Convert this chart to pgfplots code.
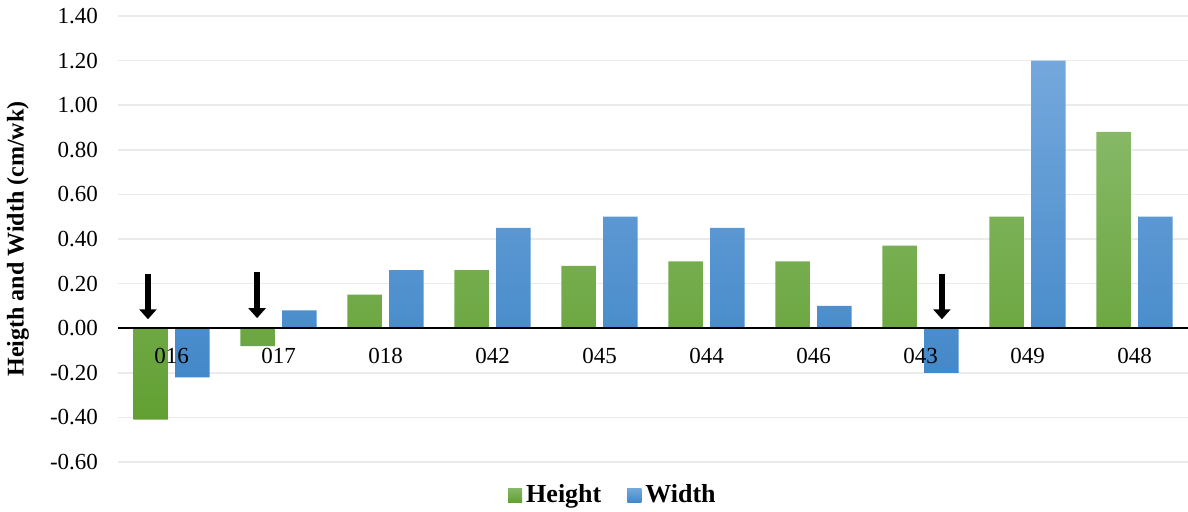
\documentclass[border=0pt]{standalone}
\usepackage{fontspec}
\setmainfont{Liberation Serif}
\usepackage{pgfplots}
\pgfplotsset{compat=1.18}
\usetikzlibrary{arrows.meta}

% bar gradients (light at the top, darker at the base)
\definecolor{gTop}{HTML}{86B866}
\definecolor{gMid}{HTML}{70AD47}
\definecolor{gBot}{HTML}{62A032}
\definecolor{bTop}{HTML}{74A8DC}
\definecolor{bMid}{HTML}{5B9BD5}
\definecolor{bBot}{HTML}{4388C9}
\definecolor{gridgray}{HTML}{EBEBEB}

\newcommand{\chartfont}{\fontsize{11.5}{13.8}\selectfont}
\newcommand{\legendfont}{\fontsize{13}{15.6}\selectfont}

\begin{document}
\chartfont
\begin{tikzpicture}
\begin{axis}[
  set layers=standard,
  scale only axis,
  width=535pt, height=223pt,
  xmin=-0.5, xmax=9.5,
  ymin=-0.6, ymax=1.4,
  axis x line=middle, axis y line=left,
  axis line style={draw=none},
  hide obscured x ticks=false, hide obscured y ticks=false,
  major tick length=0pt,
  xtick={0,1,2,3,4,5,6,7,8,9},
  xticklabels={016,017,018,042,045,044,046,043,049,048},
  ytick={-0.6,-0.4,-0.2,0,0.2,0.4,0.6,0.8,1.0,1.2,1.4},
  ymajorgrids,
  grid style={line width=0.8pt, color=gridgray},
  tick label style={font=\chartfont},
  yticklabel style={xshift=-6pt,
    /pgf/number format/fixed, /pgf/number format/fixed zerofill,
    /pgf/number format/precision=2, /pgf/number format/assume math mode=true},
  % category names sit in front of the bars
  xticklabel style={yshift=-6pt, /pgfplots/on layer=axis foreground},
  ylabel={\bfseries Heigth and Width (cm/wk)},
  ylabel style={font=\fontsize{12}{14}\selectfont, at={(axis description cs:-0.0935,0.5)}, anchor=center},
  ybar, bar width=17.25pt,
  legend columns=2,
  legend style={at={(axis description cs:0.4635,0)}, anchor=north, yshift=-7pt,
    draw=none, font=\legendfont\bfseries,
    /tikz/every even column/.append style={column sep=11pt}},
]
\addplot[draw=none, top color=gTop, middle color=gMid, bottom color=gBot, bar shift=-10.4pt,
  legend image code/.code={\fill[gMid] (0pt,-3.5pt) rectangle (7pt,3.5pt);}]
  coordinates {(0,-0.41) (1,-0.08) (2,0.15) (3,0.26) (4,0.28) (5,0.30) (6,0.30) (7,0.37) (8,0.50) (9,0.88)};
\addlegendentry{Height}
\addplot[draw=none, top color=bTop, middle color=bMid, bottom color=bBot, bar shift=10.4pt,
  legend image code/.code={\fill[bMid] (0pt,-3.5pt) rectangle (7pt,3.5pt);}]
  coordinates {(0,-0.22) (1,0.08) (2,0.26) (3,0.45) (4,0.50) (5,0.45) (6,0.10) (7,-0.20) (8,1.20) (9,0.50)};
\addlegendentry{Width}

% zero line over the bar bases
\draw[black, line width=1pt] (axis cs:-0.5,0) -- (axis cs:9.5,0);

% markers above the negative bars
\draw[black, line width=3.2pt, -{Triangle[length=5pt, width=8.5pt]}] (axis cs:-0.22,0.245) -- (axis cs:-0.22,0.04);
\draw[black, line width=3.2pt, -{Triangle[length=5pt, width=8.5pt]}] (axis cs:0.80,0.252) -- (axis cs:0.80,0.045);
\draw[black, line width=3.2pt, -{Triangle[length=5pt, width=8.5pt]}] (axis cs:7.20,0.245) -- (axis cs:7.20,0.04);

\coordinate (BL) at (rel axis cs:0,0);
\coordinate (TR) at (rel axis cs:1,1);
\end{axis}
\pgfresetboundingbox
\path ([shift={(-59pt,-25pt)}]BL) rectangle ([shift={(0pt,8pt)}]TR);
\end{tikzpicture}
\end{document}
